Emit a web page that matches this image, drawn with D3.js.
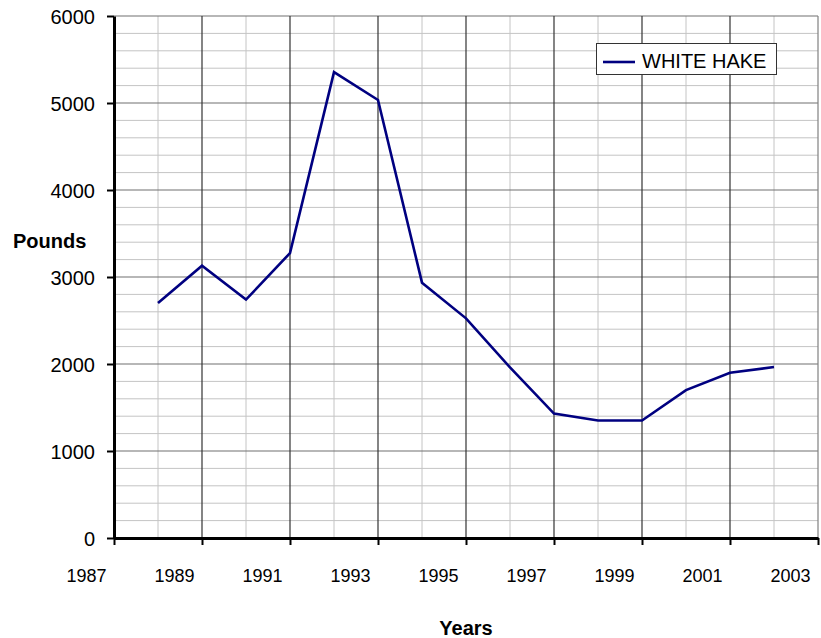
<!DOCTYPE html>
<html>
<head>
<meta charset="utf-8">
<script src="https://cdnjs.cloudflare.com/ajax/libs/d3/7.8.5/d3.min.js"></script>
<style>
  body { margin: 0; background: #fff; }
  svg { font-family: "Liberation Sans", Arial, sans-serif; }
  .axis path, .axis line { stroke: #000; }
</style>
</head>
<body>
<div id="chart"></div>
<script>
const years = [1988, 1989, 1990, 1991, 1992, 1993, 1994, 1995, 1996, 1997, 1998, 1999, 2000, 2001, 2002];
const pounds = [2700, 3130, 2740, 3275, 5355, 5035, 2935, 2525, 1960, 1430, 1350, 1350, 1700, 1900, 1965];
const xTicks = [1987, 1989, 1991, 1993, 1995, 1997, 1999, 2001, 2003];
const yTicks = [0, 1000, 2000, 3000, 4000, 5000, 6000];
const seriesName = "WHITE HAKE";

const width = 821, height = 638;
const plot = { left: 114, right: 818, top: 16, bottom: 538 };

const svg = d3.select("#chart").append("svg")
  .attr("width", width)
  .attr("height", height);

const x = d3.scaleLinear().domain([1987, 2003]).range([plot.left, plot.right]);
const y = d3.scaleLinear().domain([0, 6000]).range([plot.bottom, plot.top]);

// minor gridlines
svg.append("g")
  .selectAll("line")
  .data(d3.range(200, 6001, 200).filter(d => d % 1000 != 0))
  .enter().append("line")
  .attr("x1", plot.left).attr("x2", plot.right)
  .attr("y1", d => y(d)).attr("y2", d => y(d))
  .attr("stroke", "#c4c4c4").attr("stroke-width", 1);

svg.append("g")
  .selectAll("line")
  .data(d3.range(1988, 2003, 2))
  .enter().append("line")
  .attr("x1", d => x(d)).attr("x2", d => x(d))
  .attr("y1", plot.top).attr("y2", plot.bottom)
  .attr("stroke", "#c4c4c4").attr("stroke-width", 1);

// major gridlines
svg.append("g")
  .selectAll("line")
  .data(yTicks.slice(1))
  .enter().append("line")
  .attr("x1", plot.left).attr("x2", plot.right)
  .attr("y1", d => y(d)).attr("y2", d => y(d))
  .attr("stroke", "#707070").attr("stroke-width", 1.2);

svg.append("g")
  .selectAll("line")
  .data(xTicks.slice(1))
  .enter().append("line")
  .attr("x1", d => x(d)).attr("x2", d => x(d))
  .attr("y1", plot.top).attr("y2", plot.bottom)
  .attr("stroke", d => d == 2003 ? "#808080" : "#333")
  .attr("stroke-width", 1.2);

// axes
const yAxis = svg.append("g")
  .attr("class", "axis")
  .attr("transform", "translate(" + plot.left + ",0)")
  .call(d3.axisLeft(y).tickValues(yTicks).tickFormat(d3.format("d")).tickSize(7).tickPadding(12).tickSizeOuter(0));
yAxis.select(".domain").attr("stroke-width", 3);
yAxis.selectAll("line").attr("stroke-width", 2);
yAxis.selectAll("text")
  .attr("font-size", 20)
  .attr("fill", "#000")
  .attr("dy", "0.36em");

const xAxis = svg.append("g")
  .attr("class", "axis")
  .attr("transform", "translate(0," + plot.bottom + ")")
  .call(d3.axisBottom(x).tickValues(xTicks).tickFormat(d3.format("d")).tickSize(7).tickPadding(0).tickSizeOuter(0));
xAxis.select(".domain").attr("stroke-width", 3);
xAxis.selectAll("line").attr("stroke-width", 2);
xAxis.selectAll("text")
  .attr("font-size", 18)
  .attr("fill", "#000")
  .attr("dy", null)
  .attr("y", 44)
  .attr("x", -28);

// series line
const line = d3.line()
  .x((d, i) => x(years[i]))
  .y(d => y(d));

svg.append("path")
  .datum(pounds)
  .attr("fill", "none")
  .attr("stroke", "#000080")
  .attr("stroke-width", 2.6)
  .attr("stroke-linejoin", "miter")
  .attr("d", line);

// axis titles
svg.append("text")
  .attr("x", 13).attr("y", 248)
  .attr("font-size", 20)
  .attr("font-weight", "bold")
  .text("Pounds");

svg.append("text")
  .attr("x", (plot.left + plot.right) / 2).attr("y", 635)
  .attr("text-anchor", "middle")
  .attr("font-size", 20)
  .attr("font-weight", "bold")
  .text("Years");

// legend
const legend = svg.append("g").attr("transform", "translate(596,43)");
legend.append("rect")
  .attr("x", 0.5).attr("y", 0.5)
  .attr("width", 180).attr("height", 31)
  .attr("fill", "#fff")
  .attr("stroke", "#333");
legend.append("line")
  .attr("x1", 7).attr("x2", 39)
  .attr("y1", 19).attr("y2", 19)
  .attr("stroke", "#000080")
  .attr("stroke-width", 2.6);
legend.append("text")
  .attr("x", 46).attr("y", 25)
  .attr("font-size", 20)
  .text(seriesName);
</script>
</body>
</html>
